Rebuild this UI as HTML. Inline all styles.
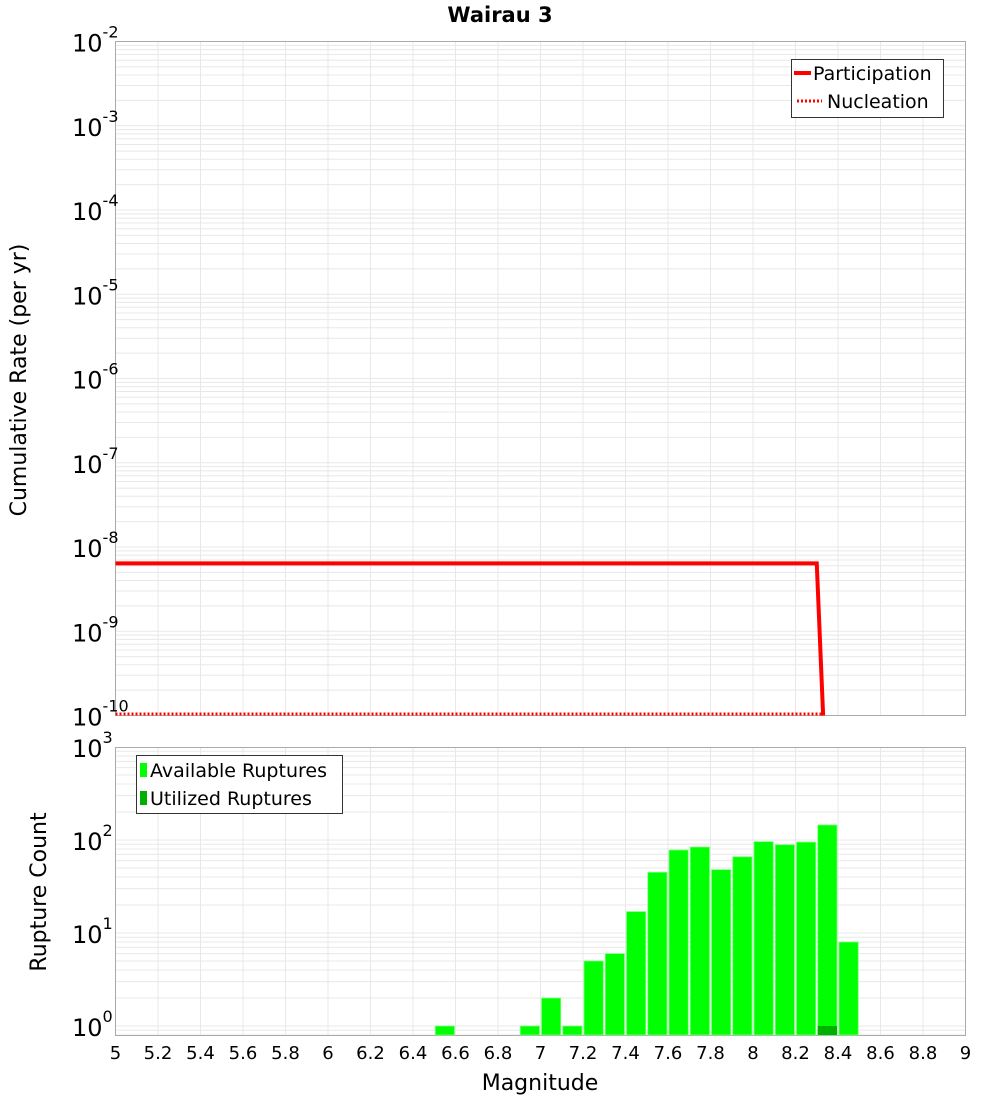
<!DOCTYPE html>
<html><head><meta charset="utf-8"><style>
body{margin:0;background:#fff;font-family:"Liberation Sans","DejaVu Sans",sans-serif}
svg text{font-family:"DejaVu Sans","Liberation Sans",sans-serif}
</style></head><body>
<svg id="c" width="1000" height="1100" xmlns="http://www.w3.org/2000/svg"></svg>
<script>
const magsLine=[5,8.3,8.33];
const partVals=[6.4e-9,6.4e-9,1e-10];
const nuclMags=[5,8.33];
const nuclVals=[1e-10,1e-10];
const binCenters=[6.55,6.95,7.05,7.15,7.25,7.35,7.45,7.55,7.65,7.75,7.85,7.95,8.05,8.15,8.25,8.35,8.45];
const availCounts=[1,1,2,1,5,6,17,45,78,84,48,66,96,89,95,145,8];
const utilCounts=[0,0,0,0,0,0,0,0,0,0,0,0,0,0,0,1,0];
const xTicks=[5,5.2,5.4,5.6,5.8,6,6.2,6.4,6.6,6.8,7,7.2,7.4,7.6,7.8,8,8.2,8.4,8.6,8.8,9];
const topExps=[-2,-3,-4,-5,-6,-7,-8,-9,-10];
const botExps=[3,2,1,0];

const S=document.getElementById('c');const NS='http://www.w3.org/2000/svg';
function el(t,a,p){const e=document.createElementNS(NS,t);for(const k in a)e.setAttribute(k,a[k]);(p||S).appendChild(e);return e;}
const X0=115.5,X1=965.5;
const x=m=>X0+(m-5)/4*(X1-X0);
const yT=v=>41.5+(-2-Math.log10(v))*84.25;
const yB=v=>1026-93*Math.log10(v);
// frames
function grid(top,bot,yf,lo,hi){
  for(const t of xTicks){const l=el('line',{x1:x(t),x2:x(t),y1:top,y2:bot,stroke:'#e8e8e8'});}
  for(let e=lo;e<hi;e++)for(let k=1;k<10;k++){const yy=yf(k*Math.pow(10,e));if(yy<top||yy>bot)continue;const l=el('line',{x1:X0,x2:X1,y1:yy,y2:yy,stroke:'#e8e8e8'});}
}
grid(41.5,715.5,yT,-10,-2);
grid(747.5,1035.5,yB,-1,3);
let r=el('rect',{x:X0,y:41.5,width:X1-X0,height:674,fill:'none',stroke:'#aaa'});
r=el('rect',{x:X0,y:747.5,width:X1-X0,height:288,fill:'none',stroke:'#aaa'});
// y tick labels
function expLabel(yy,e,name){const t=el('text',{x:106,y:yy+10,'text-anchor':'end','font-size':24,fill:'#000'});t.textContent='10';const s=el('tspan',{dy:-14,'font-size':16},t);s.textContent=String(e).replace('-','-');
const tt=el('text',{x:106,y:yy-4,'font-size':16,fill:'#000'});}
topExps.forEach(e=>{const yy=yT(Math.pow(10,e));const t=el('text',{x:72,y:yy+10,'font-size':24});t.textContent='10';const s=el('tspan',{dy:-14,'font-size':16},t);s.textContent=e;});
botExps.forEach(e=>{const yy=yB(Math.pow(10,e));const t=el('text',{x:72,y:yy+10,'font-size':24});t.textContent='10';const s=el('tspan',{dy:-14,'font-size':16},t);s.textContent=e;});
xTicks.forEach(m=>{const t=el('text',{x:x(m),y:1059,'text-anchor':'middle','font-size':18});t.textContent=m;});
// bars
binCenters.forEach((c,i)=>{const w=(X1-X0)/40;const v=availCounts[i];const top=yB(v);const b=el('rect',{x:x(c)-w/2+1,y:top,width:w-2,height:1035-top,fill:'#00ff00',stroke:'#7fff7f','stroke-width':0.8});
 if(utilCounts[i]>0){const u=yB(utilCounts[i]);const ub=el('rect',{x:x(c)-w/2+1,y:u,width:w-2,height:1035-u,fill:'#00b000'});}});
// lines
el('defs',{}).innerHTML='<clipPath id="cp"><rect x="115" y="41" width="851" height="676"/></clipPath>';
let p=el('polyline',{points:magsLine.map((m,i)=>x(m)+','+Math.min(yT(partVals[i]),716)).join(' '),fill:'none',stroke:'#ff0000','stroke-width':4});
p=el('polyline',{points:nuclMags.map((m,i)=>x(m)+','+Math.min(yT(nuclVals[i]),714)).join(' '),fill:'none',stroke:'#ff0000','stroke-width':3,'stroke-dasharray':'2,2'});
</script>
<svg width="1000" height="1100" style="position:absolute;left:0;top:0" xmlns="http://www.w3.org/2000/svg">
<text x="500" y="22" text-anchor="middle" font-size="21" font-weight="bold">Wairau 3</text>
<text transform="translate(26,380) rotate(-90)" text-anchor="middle" font-size="22">Cumulative Rate (per yr)</text>
<text transform="translate(46,892) rotate(-90)" text-anchor="middle" font-size="22">Rupture Count</text>
<text x="540" y="1090" text-anchor="middle" font-size="22">Magnitude</text>
<g>
<rect x="791.5" y="59.5" width="152" height="58" fill="#fff" stroke="#333"/>
<line x1="794" x2="811" y1="73" y2="73" stroke="#f00" stroke-width="4"/>
<text x="813" y="80" font-size="19">Participation</text>
<line x1="797" x2="822" y1="101" y2="101" stroke="#f00" stroke-width="3" stroke-dasharray="2,2"/>
<text x="827" y="108" font-size="19">Nucleation</text>
</g>
<g>
<rect x="136.5" y="755.5" width="206" height="58" fill="#fff" stroke="#333"/>
<rect x="140" y="763" width="7" height="14" fill="#00ff00"/>
<text x="150" y="777" font-size="19">Available Ruptures</text>
<rect x="140" y="791" width="7" height="14" fill="#00b000"/>
<text x="150" y="805" font-size="19">Utilized Ruptures</text>
</g>
</svg>
</body></html>
